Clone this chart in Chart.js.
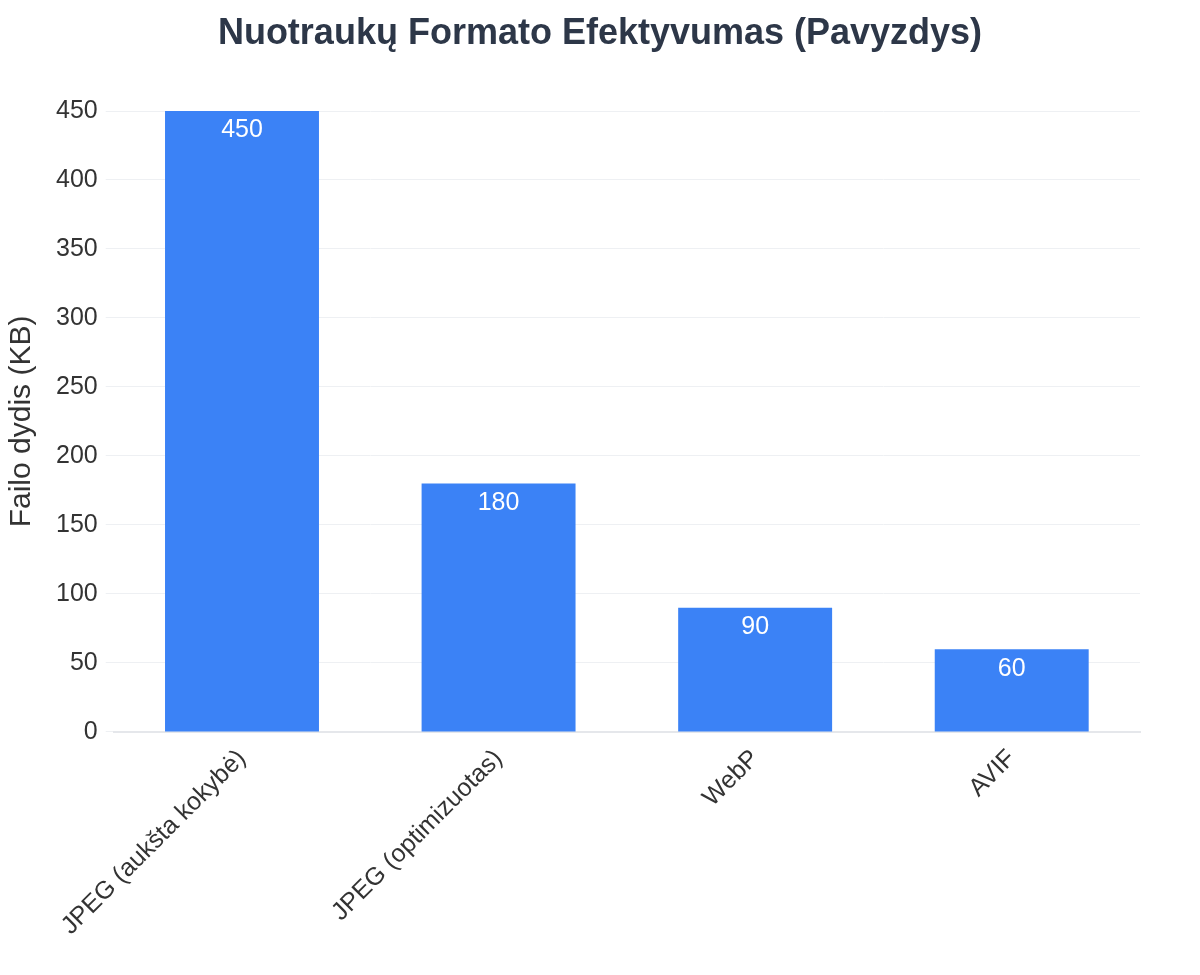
<!DOCTYPE html>
<html><head><meta charset="utf-8">
<script src="https://cdn.jsdelivr.net/npm/chart.js@4"></script>
<style>html,body{margin:0;padding:0;background:#fff}#w{width:1200px;height:975px}</style>
</head><body><div id="w"><canvas id="c"></canvas></div>
<script>
const categories = ["JPEG (aukšta kokybė)", "JPEG (optimizuotas)", "WebP", "AVIF"];
const sizes = [450, 180, 90, 60];
const yTicks = [0, 50, 100, 150, 200, 250, 300, 350, 400, 450];
const titleText = 'Nuotraukų Formato Efektyvumas (Pavyzdys)';

const labelPlugin = {
  id: 'barLabels',
  afterDatasetsDraw(chart) {
    const ctx = chart.ctx;
    const meta = chart.getDatasetMeta(0);
    ctx.save();
    ctx.fillStyle = '#ffffff';
    ctx.font = '25px "Liberation Sans", Arial, sans-serif';
    ctx.textAlign = 'center';
    ctx.textBaseline = 'top';
    meta.data.forEach((bar, i) => {
      ctx.fillText(String(sizes[i]), bar.x, bar.y + 7);
    });
    ctx.restore();
  },
  afterDraw(chart) {
    const ctx = chart.ctx;
    ctx.save();
    ctx.fillStyle = '#2d3748';
    ctx.font = 'bold 36px "Liberation Sans", Arial, sans-serif';
    ctx.textAlign = 'center';
    ctx.textBaseline = 'middle';
    ctx.fillText(titleText, 600, 34);
    ctx.restore();
  }
};

Chart.defaults.font.family = '"Liberation Sans", Arial, sans-serif';
new Chart(document.getElementById('c'), {
  type: 'bar',
  data: { labels: categories, datasets: [{ data: sizes, backgroundColor: '#3b82f6', barPercentage: 0.6, categoryPercentage: 1.0 }] },
  options: {
    responsive: true, maintainAspectRatio: false, animation: false,
    layout: { padding: { left: 0, right: 60, top: 111, bottom: 30 } },
    plugins: { legend: { display: false }, tooltip: { enabled: false }, title: { display: false } },
    scales: {
      x: {
        grid: { display: false },
        border: { color: '#e5e7eb', width: 2 },
        ticks: { color: '#333', font: { size: 25 }, maxRotation: 45, minRotation: 45, padding: 4 }
      },
      y: {
        min: 0, max: 450,
        afterBuildTicks(axis) { axis.ticks = yTicks.map(v => ({ value: v })); },
        grid: { color: '#eef0f3' },
        border: { display: false },
        ticks: { color: '#333', font: { size: 25 }, padding: 8 },
        title: { display: true, text: 'Failo dydis (KB)', color: '#333', font: { size: 30 }, padding: { bottom: 8 } }
      }
    }
  },
  plugins: [labelPlugin]
});
</script></body></html>
